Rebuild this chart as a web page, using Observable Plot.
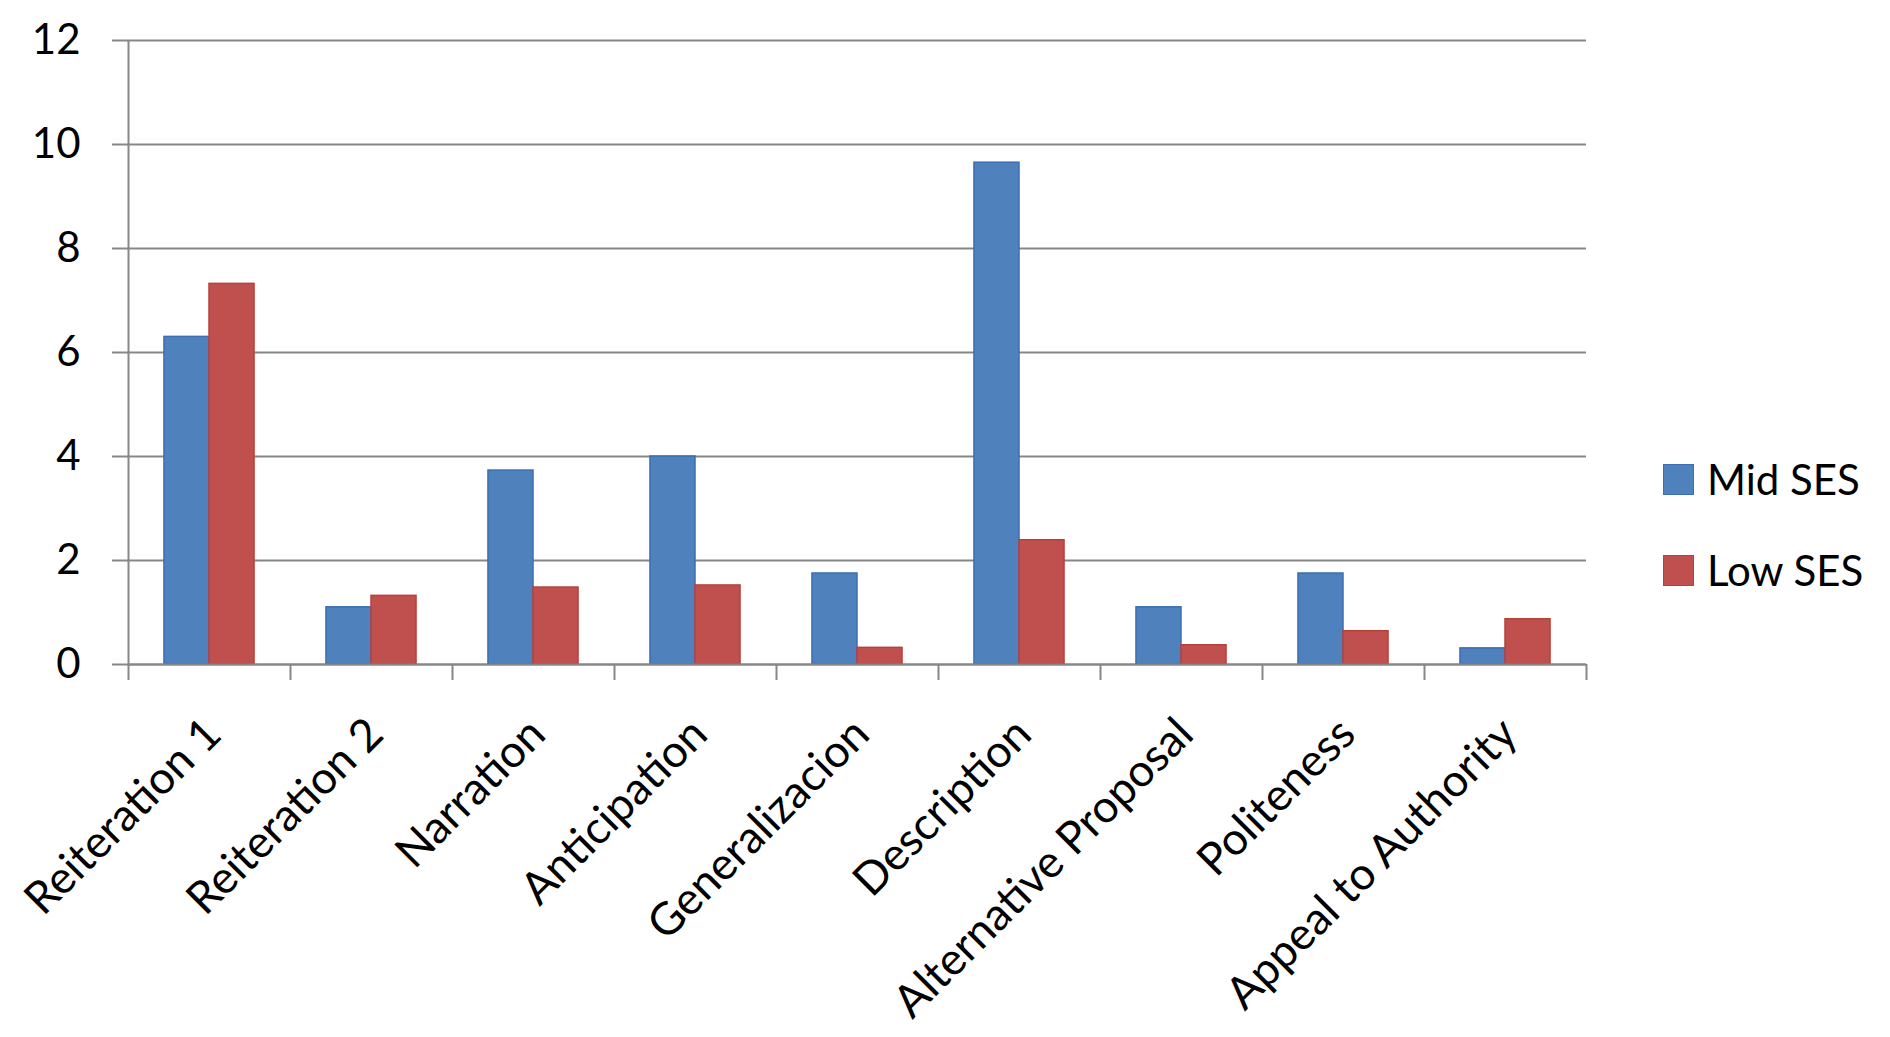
<!DOCTYPE html>
<html><head><meta charset="utf-8">
<script src="https://cdn.jsdelivr.net/npm/d3@7"></script>
<script src="https://cdn.jsdelivr.net/npm/@observablehq/plot@0.6"></script>
<style>
body{margin:0;background:#fff;font-family:Lato,sans-serif}
#wrap{position:relative;width:1890px;height:1037px}
.legend{position:absolute;left:1663px;top:457px;font-size:42px;color:#000;font-family:Lato,sans-serif}
.item{display:flex;align-items:center;height:44px;margin-bottom:47px;white-space:nowrap}
.sw{width:29px;height:29px;margin-right:13px;border:1px solid;box-sizing:content-box}
</style></head><body><div id="wrap"></div>
<script>
const categories = ["Reiteration 1", "Reiteration 2", "Narration", "Anticipation", "Generalizacion", "Description", "Alternative Proposal", "Politeness", "Appeal to Authority"];
const series = ["Mid SES", "Low SES"];
const midSES = [6.3, 1.1, 3.73, 4.0, 1.75, 9.65, 1.1, 1.75, 0.31];
const lowSES = [7.32, 1.32, 1.48, 1.52, 0.32, 2.39, 0.37, 0.64, 0.87];
const yTicks = [0, 2, 4, 6, 8, 10, 12];
const fills = ["#4F81BD", "#C0504D"];
const strokes = ["#3b6eb3", "#b8403b"];

const W = 1890, H = 1037, mL = 128, mR = 304, mT = 40, mB = 373;
const bw = (W - mL - mR) / categories.length;
const barW = bw * 0.278;
const grey = "#878787";

const rows = categories.flatMap((c, i) => [
  {category: c, series: series[0], value: midSES[i]},
  {category: c, series: series[1], value: lowSES[i]}
]);

const chart = Plot.plot({
  width: W, height: H,
  marginLeft: mL, marginRight: mR, marginTop: mT, marginBottom: mB,
  style: {fontFamily: "Lato, sans-serif", background: "#fff", color: "#000"},
  x: {type: "band", domain: categories, padding: 0, axis: null},
  y: {domain: [0, 12], axis: null},
  marks: [
    Plot.gridY(yTicks, {stroke: grey, strokeOpacity: 1, strokeWidth: 2}),
    Plot.axisY(yTicks, {tickSize: 16, tickPadding: 32, stroke: grey, strokeWidth: 2, fill: "#000", fontSize: 42, tickFormat: d => String(d), label: null}),
    Plot.barY(rows.filter(d => d.series === series[0]), {x: "category", y: "value", fill: fills[0], stroke: strokes[0], strokeWidth: 1.5, insetLeft: bw / 2 - barW, insetRight: bw / 2}),
    Plot.barY(rows.filter(d => d.series === series[1]), {x: "category", y: "value", fill: fills[1], stroke: strokes[1], strokeWidth: 1.5, insetLeft: bw / 2, insetRight: bw / 2 - barW}),
    Plot.ruleY([0], {stroke: grey, strokeWidth: 2}),
    Plot.ruleX([categories[0]], {y1: 0, y2: 12, dx: -bw / 2, stroke: grey, strokeWidth: 2}),
    Plot.axisX(categories, {tickSize: 16, dx: -bw / 2, stroke: grey, strokeWidth: 2, tickFormat: () => "", label: null}),
    Plot.axisX([categories[categories.length - 1]], {tickSize: 16, dx: bw / 2, stroke: grey, strokeWidth: 2, tickFormat: () => "", label: null}),
    Plot.axisX(categories, {tickSize: 0, tickPadding: 62, dx: 4, tickRotate: -45, fontSize: 45, fill: "#000", label: null})
  ]
});
document.getElementById("wrap").appendChild(chart);

const legend = document.createElement("div");
legend.className = "legend";
series.forEach((s, i) => {
  const item = document.createElement("div");
  item.className = "item";
  const sw = document.createElement("span");
  sw.className = "sw";
  sw.style.background = fills[i];
  sw.style.borderColor = strokes[i];
  const t = document.createElement("span");
  t.textContent = s;
  item.appendChild(sw); item.appendChild(t);
  legend.appendChild(item);
});
document.getElementById("wrap").appendChild(legend);
</script>
</body></html>
